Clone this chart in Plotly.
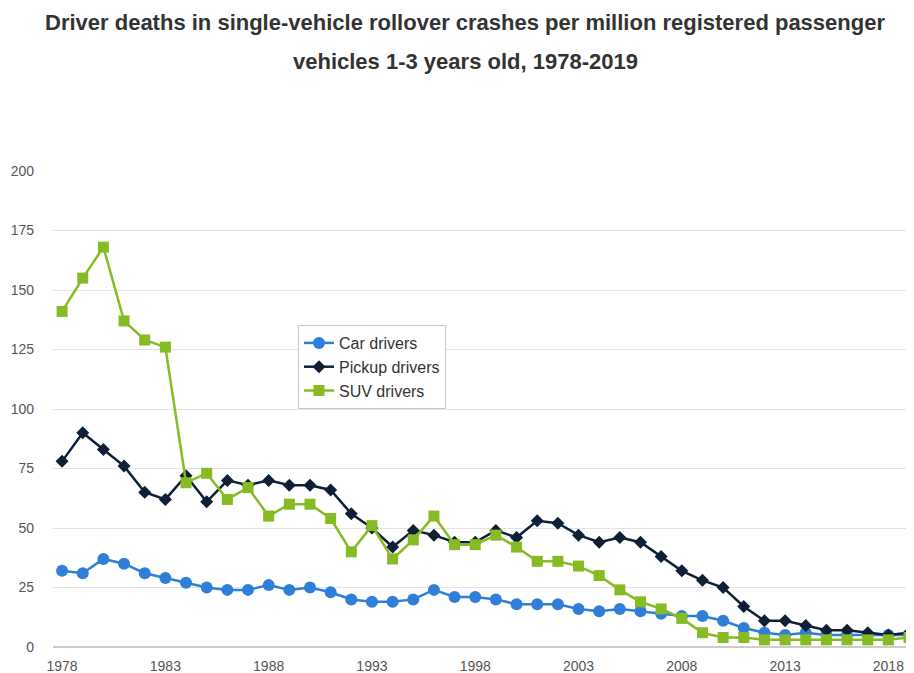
import plotly.graph_objects as go

years = list(range(1978, 2020))
car_drivers = [32, 31, 37, 35, 31, 29, 27, 25, 24, 24, 26, 24, 25, 23, 20, 19, 19, 20, 24, 21,
               21, 20, 18, 18, 18, 16, 15, 16, 15, 14, 13, 13, 11, 8, 6, 5, 6, 5, 5, 5, 5, 5]
pickup_drivers = [78, 90, 83, 76, 65, 62, 72, 61, 70, 68, 70, 68, 68, 66, 56, 50, 42, 49, 47, 44,
                  44, 49, 46, 53, 52, 47, 44, 46, 44, 38, 32, 28, 25, 17, 11, 11, 9, 7, 7, 6, 5, 6]
suv_drivers = [141, 155, 168, 137, 129, 126, 69, 73, 62, 67, 55, 60, 60, 54, 40, 51, 37, 45, 55, 43,
               43, 47, 42, 36, 36, 34, 30, 24, 19, 16, 12, 6, 4, 4, 3, 3, 3, 3, 3, 3, 3, 4]
x_tick_labels = [1978, 1983, 1988, 1993, 1998, 2003, 2008, 2013, 2018]
y_tick_labels = [0, 25, 50, 75, 100, 125, 150, 175, 200]

title_line1 = "Driver deaths in single-vehicle rollover crashes per million registered passenger"
title_line2 = "vehicles 1-3 years old, 1978-2019"

FONT = "Liberation Sans, Arial, sans-serif"
fig = go.Figure()
fig.add_trace(go.Scatter(x=years, y=car_drivers, name="Car drivers", mode="lines+markers",
                         line=dict(color="#2f7fd9", width=2.5),
                         marker=dict(symbol="circle", size=12, color="#2f7fd9")))
fig.add_trace(go.Scatter(x=years, y=pickup_drivers, name="Pickup drivers", mode="lines+markers",
                         line=dict(color="#0f2036", width=2.5),
                         marker=dict(symbol="diamond", size=10, color="#0f2036")))
fig.add_trace(go.Scatter(x=years, y=suv_drivers, name="SUV drivers", mode="lines+markers",
                         line=dict(color="#86bb23", width=2.5),
                         marker=dict(symbol="square", size=11, color="#86bb23")))

fig.update_traces(cliponaxis=False)

fig.update_layout(
    width=906, height=665,
    margin=dict(l=45, r=0, t=163, b=26, autoexpand=False),
    paper_bgcolor="white", plot_bgcolor="white",
    font=dict(family=FONT, color="#555555", size=14),
    showlegend=True,
    legend=dict(x=(298 - 53) / 861, y=(647 - 367) / 476, xanchor="left", yanchor="middle",
                bgcolor="white", bordercolor="#c8c8c8", borderwidth=1,
                font=dict(size=16, color="#333333"), tracegroupgap=0),
    xaxis=dict(range=[1977.56, 2019.24], tickmode="array", tickvals=x_tick_labels,
               showgrid=False, zeroline=False, showline=False, ticks="", automargin=False,
               ticklabelstandoff=9,
               tickfont=dict(size=14, color="#555555")),
    yaxis=dict(range=[0, 200], tickmode="array", tickvals=y_tick_labels,
               showgrid=True, gridcolor="#e4e4e4", gridwidth=1,
               zeroline=True, zerolinecolor="#cccccc", zerolinewidth=2,
               showline=False, ticks="", ticklabelstandoff=18, automargin=False,
               tickfont=dict(size=14, color="#555555")),
    annotations=[
        dict(text="<b>" + title_line1 + "</b>", xref="paper", yref="paper",
             x=(465 - 53) / 861, y=(647 - 22) / 476, xanchor="center", yanchor="middle",
             showarrow=False, font=dict(size=22, color="#333333", family=FONT)),
        dict(text="<b>" + title_line2 + "</b>", xref="paper", yref="paper",
             x=(465 - 53) / 861, y=(647 - 62) / 476, xanchor="center", yanchor="middle",
             showarrow=False, font=dict(size=22, color="#333333", family=FONT)),
    ],
)

fig.write_html("out.html")
